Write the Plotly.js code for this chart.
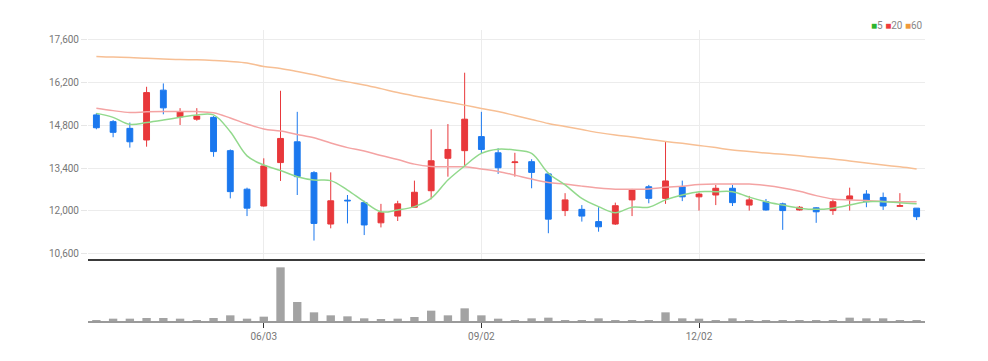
<!DOCTYPE html>
<html>
<head>
<meta charset="utf-8">
<script src="https://cdn.plot.ly/plotly-3.0.1.min.js"></script>
<style>html,body{margin:0;padding:0;background:#fff;}#chart{width:988px;height:361px;}</style>
</head>
<body>
<div id="chart"></div>
<script>
const dates = ['2024-03-25','2024-04-01','2024-04-08','2024-04-15','2024-04-22','2024-04-29','2024-05-06','2024-05-13','2024-05-20','2024-05-27',
 '2024-06-03','2024-06-10','2024-06-17','2024-06-24','2024-07-01','2024-07-08','2024-07-15','2024-07-22','2024-07-29','2024-08-05',
 '2024-08-12','2024-08-19','2024-08-26','2024-09-02','2024-09-09','2024-09-16','2024-09-23','2024-09-30','2024-10-07','2024-10-14',
 '2024-10-21','2024-10-28','2024-11-04','2024-11-11','2024-11-18','2024-11-25','2024-12-02','2024-12-09','2024-12-16','2024-12-23',
 '2024-12-30','2025-01-06','2025-01-13','2025-01-20','2025-01-27','2025-02-03','2025-02-10','2025-02-17','2025-02-24','2025-03-03'];

const openP  = [15140,14920,14700,14320,15950,15080,15000,15060,13970,12710,12160,13580,14260,13250,11570,12350,12270,11610,11830,12120,
 12660,13720,13970,14430,13900,13580,13610,13210,12010,12050,11650,11570,12360,12790,12410,12790,12460,12520,12740,12190,
 12300,12230,12030,12100,12010,12380,12550,12440,12150,12090];
const highP  = [15200,14970,14890,16060,16170,15360,15360,15100,14010,12760,13720,15930,15240,13300,13260,12520,12330,12230,12330,12990,
 14670,14840,16520,15240,14050,13900,13690,13250,12580,12190,12120,12270,12720,12850,14260,12990,12600,12850,12850,12490,
 12390,12270,12160,12120,12380,12760,12680,12600,12580,12090];
const lowP   = [14670,14410,14070,14100,15160,14810,14950,13770,12410,11830,12140,12980,12520,11030,11430,11590,11210,11460,11670,12120,
 12380,13120,13470,13860,13210,13120,12740,11270,11830,11650,11320,11540,11830,12250,12230,12320,12010,12190,12160,12010,
 12010,11380,12010,11610,11870,12010,12120,12030,12140,11700];
const closeP = [14720,14570,14260,15870,15370,15240,15100,13940,12630,12090,13470,14370,13120,11590,12330,12330,11540,11940,12230,12610,
 13640,14010,15000,14010,13410,13600,13260,11730,12360,11830,11480,12170,12680,12410,12980,12460,12550,12740,12270,12360,
 12030,12010,12120,11970,12300,12490,12300,12160,12170,11810];

const ma5  = [15190,15060,14830,14890,14970,15060,15140,15140,14590,13800,13500,13320,13120,13010,12990,12680,12300,11970,12030,12140,
 12410,13010,13470,13880,14020,13990,13880,13230,12850,12410,12140,11940,12120,12120,12360,12520,12630,12630,12630,12450,
 12300,12190,12090,12050,12090,12190,12300,12300,12270,12230];
const ma20 = [15360,15280,15220,15240,15250,15250,15250,15210,15040,14840,14680,14610,14500,14390,14220,14070,13960,13810,13680,13530,
 13450,13440,13440,13370,13290,13170,13040,12930,12880,12810,12750,12710,12710,12720,12770,12810,12860,12880,12880,12880,
 12830,12750,12640,12500,12390,12360,12340,12310,12300,12300];
const ma60 = [17050,17030,17020,16990,16970,16950,16940,16920,16890,16840,16720,16660,16560,16450,16330,16220,16120,16000,15870,15760,
 15660,15560,15460,15350,15250,15120,14990,14860,14760,14660,14560,14480,14420,14340,14270,14210,14140,14070,13990,13940,
 13890,13850,13800,13750,13700,13630,13570,13500,13440,13370];

const volume = [30,70,70,90,90,70,30,90,170,70,130,1610,570,260,170,140,80,60,70,120,
 310,170,380,170,70,30,80,100,30,30,80,30,30,30,260,80,70,30,80,30,
 30,30,30,30,30,100,80,80,30,30];

const tickDates = ['2024-06-03','2024-09-02','2024-12-02'];
const tickLabels = ['06/03','09/02','12/02'];
const yTicks = [10600,12000,13400,14800,16200,17600];
const yTickLabels = ['10,600','12,000','13,400','14,800','16,200','17,600'];
const maNames = ['5','20','60'];

const UP = '#e8383b', DOWN = '#1b78ee';
const C5 = '#92d98c', C20 = '#f4a3a3', C60 = '#f7bf94';
const FONT = 'Liberation Sans Narrow, Roboto, Liberation Sans, sans-serif';

const traces = [
  {type:'bar', x:dates, y:volume, xaxis:'x', yaxis:'y2', marker:{color:'#a3a3a3', line:{width:0}}, hoverinfo:'y'},
  {type:'candlestick', x:dates, open:openP, high:highP, low:lowP, close:closeP, xaxis:'x2', yaxis:'y',
   increasing:{line:{color:UP, width:1}, fillcolor:UP},
   decreasing:{line:{color:DOWN, width:1}, fillcolor:DOWN}, whiskerwidth:0},
  {type:'scatter', mode:'lines', x:dates, y:ma60, xaxis:'x2', yaxis:'y', line:{color:C60, width:1.5, shape:'spline'}, name:maNames[2]},
  {type:'scatter', mode:'lines', x:dates, y:ma20, xaxis:'x2', yaxis:'y', line:{color:C20, width:1.5, shape:'spline'}, name:maNames[1]},
  {type:'scatter', mode:'lines', x:dates, y:ma5, xaxis:'x2', yaxis:'y', line:{color:C5, width:1.5, shape:'spline'}, name:maNames[0]}
];

const layout = {
  width:988, height:361,
  margin:{l:88, r:63, t:30, b:40},
  paper_bgcolor:'#ffffff', plot_bgcolor:'#ffffff',
  showlegend:false, boxgap:0.5, bargap:0.5,
  font:{family:FONT, color:'#777'},
  xaxis:{type:'category', anchor:'y2', range:[-0.5,49.5], tickmode:'array', tickvals:tickDates, ticktext:tickLabels,
    ticks:'outside', ticklen:5, tickcolor:'#333', tickwidth:1, showgrid:false, showline:true, linecolor:'#9a9a9a', linewidth:2,
    tickfont:{size:10, color:'#777', family:FONT}, rangeslider:{visible:false}, zeroline:false},
  xaxis2:{type:'category', anchor:'y', range:[-0.5,49.5], tickmode:'array', tickvals:tickDates, showticklabels:false,
    ticks:'', showgrid:true, gridcolor:'#ececec', gridwidth:1, showline:true, linecolor:'#3a3a3a', linewidth:2,
    rangeslider:{visible:false}, zeroline:false},
  yaxis:{domain:[0.2131,1], range:[10427,17917], tickmode:'array', tickvals:yTicks, ticktext:yTickLabels,
    showgrid:true, gridcolor:'#ececec', gridwidth:1, zeroline:false, ticks:'outside', ticklen:6, tickcolor:'#e6e6e6',
    tickfont:{size:10, color:'#777', family:FONT}},
  yaxis2:{domain:[0,0.2027], range:[0,1770], showticklabels:false, showgrid:false, zeroline:false, ticks:''},
  annotations:[{xref:'paper', yref:'paper', x:1, y:1.017, xanchor:'right', yanchor:'middle', showarrow:false,
    font:{size:10, color:'#888', family:FONT},
    text:'<span style="color:#2db52d">■</span>'+maNames[0]+' <span style="color:#ee3b3b">■</span>'+maNames[1]+' <span style="color:#f09a3a">■</span>'+maNames[2]}]
};

Plotly.newPlot('chart', traces, layout, {displayModeBar:false, staticPlot:true});
</script>
</body>
</html>
